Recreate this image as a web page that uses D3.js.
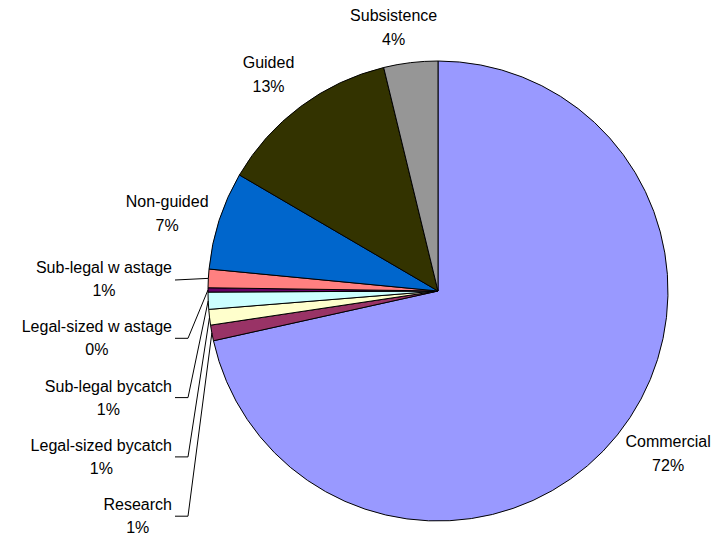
<!DOCTYPE html>
<html>
<head>
<meta charset="utf-8">
<script src="https://cdn.jsdelivr.net/npm/d3@7"></script>
<style>
  body { margin: 0; background: #fff; }
  text { font-family: "Liberation Sans", Arial, sans-serif; font-size: 16px; fill: #000; }
</style>
</head>
<body>
<div id="chart"></div>
<script>
(function() {
    const width = 713;
    const height = 535;

    // slices in clockwise order starting at 12 o'clock
    const categories = ["Commercial", "Research", "Legal-sized bycatch", "Sub-legal bycatch",
        "Legal-sized w astage", "Sub-legal w astage", "Non-guided", "Guided", "Subsistence"];
    const values = [71.6, 1.1, 1.1, 1.2, 0.3, 1.3, 6.9, 12.8, 3.8];
    const colors = ["#9999FF", "#993366", "#FFFFCC", "#CCFFFF", "#660066", "#FF8080", "#0066CC", "#333300", "#969696"];

    const cx = 438, cy = 291, radius = 230;

    const svg = d3.select("#chart")
        .append("svg")
        .attr("width", width)
        .attr("height", height);

    const data = categories.map((c, i) => ({ name: c, value: values[i], color: colors[i], idx: i }));
    const total = d3.sum(values);

    const pie = d3.pie().sort(null).value(d => d.value);
    const arcs = pie(data);
    const arc = d3.arc().innerRadius(0).outerRadius(radius);

    const g = svg.append("g").attr("transform", `translate(${cx},${cy})`);

    g.selectAll("path")
        .data(arcs)
        .enter().append("path")
        .attr("d", arc)
        .attr("fill", d => d.data.color)
        .attr("stroke", "#000")
        .attr("stroke-width", 1);

    const pct = d => Math.round(d.data.value / total * 100) + "%";
    const mid = d => (d.startAngle + d.endAngle) / 2;

    // big slices: label centred on an outer ring (small nudges like excel's layout)
    const labelR = 272;
    const nudge = { "Commercial": [18, -8], "Subsistence": [-12, 6], "Guided": [-7, 1], "Non-guided": [-12, 6] };
    const big = arcs.filter(d => d.data.value / total >= 0.02);
    big.forEach(d => {
        const a = mid(d);
        const n = nudge[d.data.name] || [0, 0];
        const x = labelR * Math.sin(a) + n[0], y = -labelR * Math.cos(a) + n[1];
        const t = g.append("text").attr("text-anchor", "middle");
        t.append("tspan").attr("x", x).attr("y", y - 6).text(d.data.name);
        t.append("tspan").attr("x", x).attr("y", y + 18).text(pct(d));
    });

    // small slices: stacked on the left with leader lines
    const small = arcs.filter(d => d.data.value / total < 0.02).reverse();
    const rightEdge = 172 - cx;
    small.forEach((d, i) => {
        const ly = 279 + i * 59.3 - cy;
        const t = g.append("text").attr("text-anchor", "end");
        const l1 = t.append("tspan").attr("x", rightEdge).attr("y", ly - 6).text(d.data.name);
        const w = l1.node().getComputedTextLength();
        g.append("text").attr("text-anchor", "middle")
            .attr("x", rightEdge - w / 2).attr("y", ly + 17).text(pct(d));

        const a = mid(d);
        const px = radius * Math.sin(a), py = -radius * Math.cos(a);
        const pts = i === 0
            ? [[rightEdge + 3, ly + 1], [px, py]]
            : [[rightEdge + 3, ly], [rightEdge + 16, ly], [px, py]];
        g.append("path")
            .attr("d", d3.line()(pts))
            .attr("fill", "none")
            .attr("stroke", "#000")
            .attr("stroke-width", 1);
    });
})();
</script>
</body>
</html>
